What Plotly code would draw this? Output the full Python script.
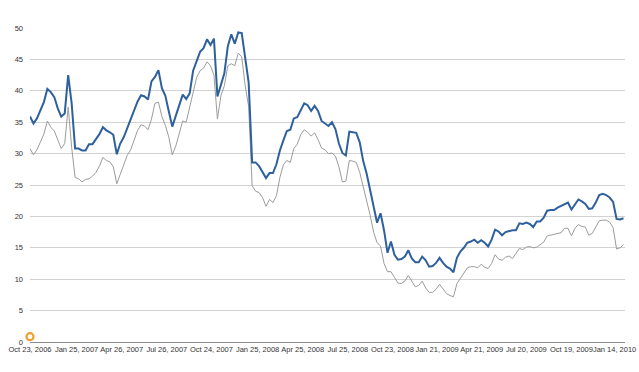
import pandas as pd
import plotly.graph_objects as go

# Weekly observations starting Oct 23, 2006
start_date = "2006-10-23"

blue_values = [
    35.9, 34.8, 35.6, 36.9, 38.2, 40.3, 39.8, 39.0, 37.2, 35.9,
    36.4, 42.5, 38.0, 30.8, 30.8, 30.5, 30.5, 31.5, 31.5, 32.3,
    33.1, 34.2, 33.7, 33.4, 33.0, 29.9, 31.6, 32.6, 34.0, 35.3,
    36.7, 38.3, 39.3, 39.1, 38.6, 41.5, 42.2, 43.3, 40.4, 39.2,
    36.7, 34.3, 36.0, 37.8, 39.4, 38.7, 39.6, 43.2, 44.6, 46.2,
    46.8, 48.2, 47.3, 48.3, 39.1, 41.0, 42.8, 47.1, 49.0, 47.5,
    49.3, 49.2, 44.8, 41.3, 28.6, 28.6, 28.0, 27.0, 26.1, 26.9,
    26.9, 28.3, 30.5, 32.1, 33.6, 33.8, 35.6, 35.8, 37.0, 38.0,
    37.7, 36.8, 37.6, 36.8, 35.2, 34.8, 34.4, 35.0, 33.9, 31.6,
    30.1, 29.7, 33.5, 33.4, 33.3, 31.8, 28.8, 26.8, 24.2, 21.7,
    19.0, 20.5, 17.8, 14.2, 16.0, 13.9, 13.1, 13.2, 13.6, 14.6,
    13.3, 12.7, 12.7, 13.6, 13.0, 12.0, 12.1, 12.6, 13.4, 12.6,
    12.0, 11.7, 11.1, 13.4, 14.4, 15.0, 15.8, 16.0, 16.3, 15.8,
    16.2, 15.8, 15.2, 16.3, 17.9, 17.6, 17.0, 17.5, 17.7, 17.8,
    17.8, 18.9, 18.8, 19.0, 18.8, 18.3, 19.2, 19.2, 19.8, 20.9,
    21.0, 21.0, 21.4, 21.7, 21.9, 22.2, 21.1, 21.9, 22.7, 22.4,
    22.0, 21.2, 21.3, 22.2, 23.4, 23.6, 23.4, 23.0, 22.3, 19.6,
    19.5, 19.7,
]

grey_values = [
    30.8, 29.8, 30.6, 31.8, 33.1, 35.2, 34.2, 33.6, 32.2, 30.8,
    31.6, 37.4, 31.0, 26.2, 26.0, 25.5, 25.9, 26.0, 26.4, 27.0,
    28.0, 29.4, 28.9, 28.7, 27.9, 25.2, 26.7, 28.3, 29.7, 30.6,
    32.0, 33.7, 34.6, 34.4, 33.8, 35.5, 38.0, 38.2, 35.9, 34.5,
    32.6, 29.8, 31.2, 33.2, 35.2, 35.0, 37.5, 39.8, 42.1, 43.2,
    43.6, 44.6, 44.0, 42.5, 35.5, 39.2, 40.8, 44.0, 44.3, 44.0,
    46.0, 45.4, 40.8, 37.5, 24.9, 24.0, 23.8, 23.0, 21.6, 22.7,
    22.2, 23.3, 26.2, 28.2, 28.9, 28.6, 30.8, 31.5, 33.0, 33.8,
    33.4, 32.8, 33.3, 32.2, 30.9, 30.6, 30.0, 30.1, 29.6, 27.9,
    25.5, 25.6, 28.9, 28.8, 28.6, 27.0, 24.8, 22.6, 20.2, 17.5,
    15.8, 15.3, 12.5, 11.2, 11.2, 10.3, 9.4, 9.3, 9.7, 10.6,
    9.6, 8.8, 9.0, 9.7, 8.6, 7.9, 7.9, 8.4, 9.2, 8.4,
    7.7, 7.4, 7.2, 9.3, 10.2, 11.0, 11.8, 12.0, 12.0, 11.8,
    12.4, 11.9, 11.7, 12.5, 13.9, 13.2, 13.0, 13.5, 13.7, 13.3,
    14.1, 14.9, 14.7, 15.1, 15.2, 15.0, 15.1, 15.5, 15.9, 16.9,
    17.0, 17.2, 17.3, 17.4, 18.1, 18.1, 16.9, 18.1, 18.7, 18.4,
    18.3, 17.0, 17.3, 18.4, 19.3, 19.4, 19.4, 19.1, 18.2, 14.8,
    15.0, 15.5,
]

marker_date = ["2006-10-23"]
marker_value = [0.85]

tick_dates = [
    "2006-10-23", "2007-01-25", "2007-04-26", "2007-07-26", "2007-10-24",
    "2008-01-25", "2008-04-25", "2008-07-25", "2008-10-23", "2009-01-21",
    "2009-04-21", "2009-07-20", "2009-10-19", "2010-01-14",
]
tick_labels = [
    "Oct 23, 2006", "Jan 25, 2007", "Apr 26, 2007", "Jul 26, 2007", "Oct 24, 2007",
    "Jan 25, 2008", "Apr 25, 2008", "Jul 25, 2008", "Oct 23, 2008", "Jan 21, 2009",
    "Apr 21, 2009", "Jul 20, 2009", "Oct 19, 2009", "Jan 14, 2010",
]
y_ticks = [0, 5, 10, 15, 20, 25, 30, 35, 40, 45, 50]

dates = pd.date_range(start_date, periods=len(blue_values), freq="7D")

fig = go.Figure()
fig.add_trace(go.Scatter(
    x=dates, y=grey_values, mode="lines",
    line=dict(color="#9c9c9c", width=1), showlegend=False, hoverinfo="skip",
))
fig.add_trace(go.Scatter(
    x=dates, y=blue_values, mode="lines",
    line=dict(color="#2f609e", width=2), showlegend=False, hoverinfo="skip",
))
fig.add_trace(go.Scatter(
    x=marker_date, y=marker_value, mode="markers",
    marker=dict(symbol="circle", size=7, color="white",
                line=dict(color="#f0a030", width=2.2)),
    cliponaxis=False, showlegend=False, hoverinfo="skip",
))

font_family = "Liberation Sans, Arial, sans-serif"
fig.update_layout(
    width=639, height=372,
    margin=dict(l=30, r=14, t=28, b=30, autoexpand=False),
    paper_bgcolor="white", plot_bgcolor="white",
    font=dict(family=font_family, size=7.5, color="#333333"),
    xaxis=dict(
        type="date", automargin=False,
        range=["2006-10-23", "2010-02-04"],
        tickmode="array", tickvals=tick_dates, ticktext=tick_labels,
        tickangle=0, showgrid=False, zeroline=False,
        showline=True, linecolor="#8a8a8a", linewidth=1,
        ticks="", ticklabeloverflow="allow",
        tickfont=dict(size=7.5, color="#333333"),
    ),
    yaxis=dict(
        range=[0, 50], tickmode="array", tickvals=y_ticks, automargin=False,
        showgrid=True, gridcolor="#d2d2d2", gridwidth=1,
        zeroline=False, showline=False, ticks="",
        ticklabelstandoff=6,
        tickfont=dict(size=7.5, color="#333333"),
    ),
)

# remove the default page margin so the figure fills the window exactly
fig.write_html(
    "out.html",
    config={"displayModeBar": False},
    post_script="document.body.style.margin='0';document.body.style.overflow='hidden';",
)
